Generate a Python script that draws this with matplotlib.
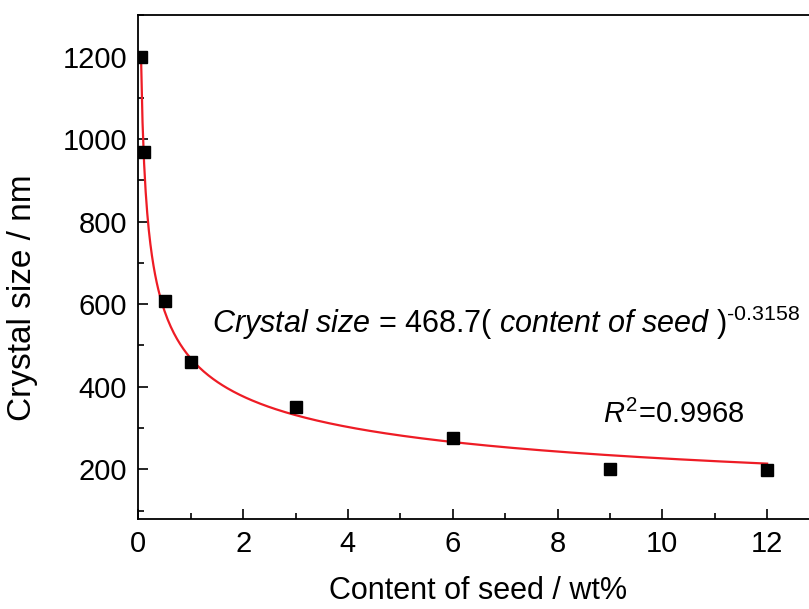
import numpy as np
import matplotlib
matplotlib.use("Agg")
import matplotlib.pyplot as plt

plt.rcParams['font.family'] = ['Liberation Sans', 'DejaVu Sans']
plt.rcParams['mathtext.fontset'] = 'custom'
plt.rcParams['mathtext.rm'] = 'Liberation Sans'
plt.rcParams['mathtext.it'] = 'Liberation Sans:italic'

# measured points
seed_content = [0.05, 0.1, 0.5, 1, 3, 6, 9, 12]
crystal_size = [1198, 968, 607, 460, 352, 276, 200, 199]

# power-law fit shown on the chart
fit_a = 468.7
fit_b = -0.3158

fig = plt.figure(figsize=(8.09, 6.09), dpi=100)
ax = fig.add_axes([0.171, 0.148, 0.842, 0.827])

xf = np.linspace(0.05, 12, 400)
ax.plot(xf, fit_a * xf ** fit_b, color="#ee1c25", lw=1.6, zorder=2)
ax.plot(seed_content, crystal_size, "s", color="black", ms=8.5, zorder=3)

ax.set_xlim(0, 13)
ax.set_ylim(80, 1300)
ax.set_xticks(range(0, 13, 2))
ax.set_xticks(range(1, 13, 2), minor=True)
ax.set_yticks(range(200, 1201, 200))
ax.set_yticks(range(100, 1301, 200), minor=True)
ax.tick_params(which="both", direction="in", top=False, right=False,
               labelsize=21, width=1.2, pad=8)
ax.tick_params(which="major", length=7)
ax.tick_params(which="minor", length=4)
for s in ["left", "bottom", "top"]:
    ax.spines[s].set_linewidth(1.3)
ax.spines["right"].set_visible(False)

ax.set_xlabel("Content of seed / wt%", fontsize=22)
ax.set_ylabel("Crystal size / nm", fontsize=24)
ax.xaxis.set_label_coords(0.498, -0.114)
ax.yaxis.set_label_coords(-0.148, 0.44)

ax.text(1.41, 530, r"$\it{Crystal\ size}$ = 468.7( $\it{content\ of\ seed}$ )$^{‐0.3158}$",
        fontsize=22, ha="left", va="baseline")
ax.text(8.87, 313, r"$\it{R}^{2}$=0.9968", fontsize=21, ha="left", va="baseline")

fig.savefig("out.png", dpi=100)
